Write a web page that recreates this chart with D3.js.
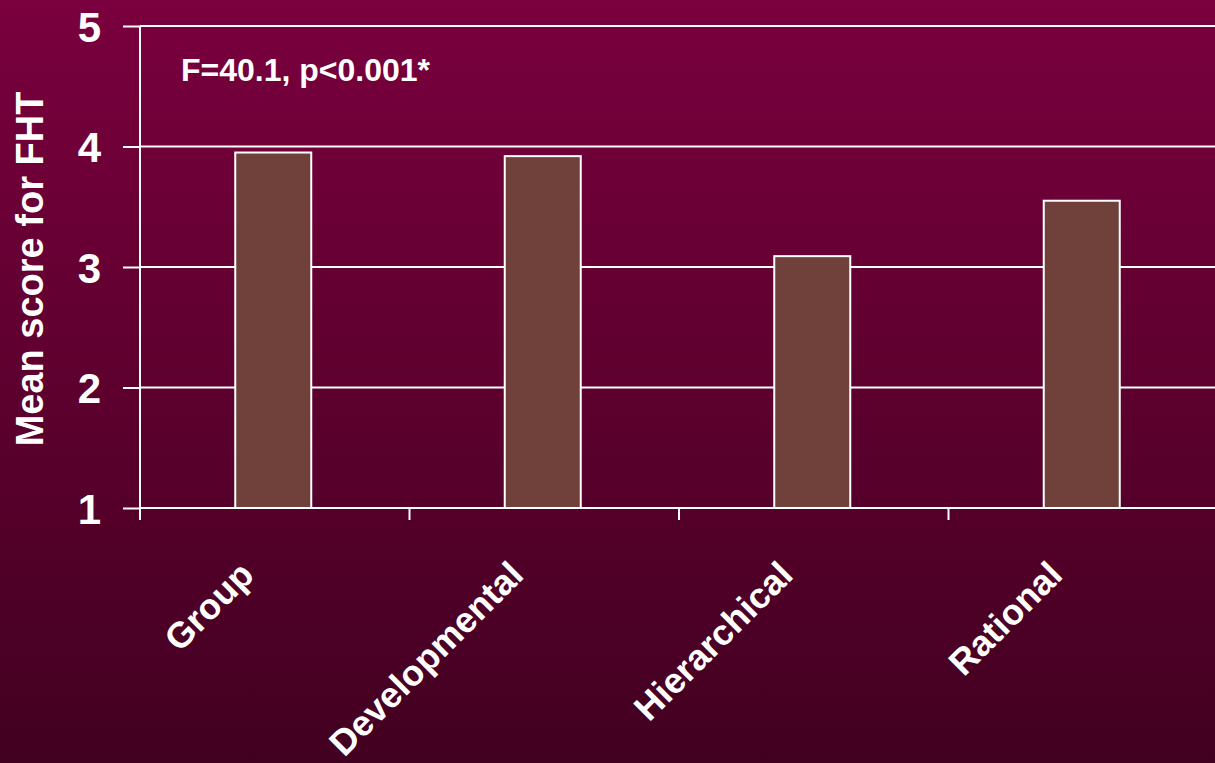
<!DOCTYPE html>
<html>
<head>
<meta charset="utf-8">
<script src="https://cdn.jsdelivr.net/npm/d3@7"></script>
<style>
  html, body { margin: 0; padding: 0; background: #5e0030; }
  svg { display: block; }
  text { font-family: "Liberation Sans", Arial, sans-serif; font-weight: bold; fill: #ffffff; }
</style>
</head>
<body>
<svg id="chart" width="1215" height="763"></svg>
<script>
// Culture types and their mean FHT scores
const categories = ["Group", "Developmental", "Hierarchical", "Rational"];
const meanScores = [3.95, 3.92, 3.09, 3.55];
const yTicks = [1, 2, 3, 4, 5];
const yTitle = "Mean score for FHT";
const statNote = "F=40.1, p<0.001*";

const W = 1215, H = 763;
const margin = { left: 140, top: 26, right: -3, bottom: 255 };

const svg = d3.select("#chart");

// background gradient
const defs = svg.append("defs");
const grad = defs.append("linearGradient")
  .attr("id", "bg").attr("x1", 0).attr("y1", 0).attr("x2", 0).attr("y2", 1);
grad.append("stop").attr("offset", "0%").attr("stop-color", "#7a003e");
grad.append("stop").attr("offset", "100%").attr("stop-color", "#420020");
svg.append("rect").attr("width", W).attr("height", H).attr("fill", "url(#bg)");

const x = d3.scaleBand()
  .domain(categories)
  .range([margin.left, W - margin.right])
  .padding(0);

const y = d3.scaleLinear()
  .domain([1, 5])
  .range([H - margin.bottom, margin.top]);

// left tick marks and value labels
const yAxis = svg.append("g")
  .attr("transform", `translate(${margin.left},0)`)
  .call(d3.axisLeft(y).tickValues(yTicks).tickSize(17).tickFormat(d3.format("d")).tickPadding(22));
yAxis.select(".domain").remove();
yAxis.selectAll(".tick line").attr("stroke", "#ffffff").attr("stroke-width", 2);
yAxis.selectAll(".tick text")
  .attr("font-size", 42).attr("fill", "#ffffff").attr("dy", "0.36em")
  .attr("font-family", "'Liberation Sans', Arial, sans-serif").attr("font-weight", "bold");

// horizontal gridlines
svg.append("g")
  .selectAll("line")
  .data(yTicks)
  .join("line")
  .attr("x1", margin.left).attr("x2", W)
  .attr("y1", d => y(d)).attr("y2", d => y(d))
  .attr("stroke", "#ffffff").attr("stroke-width", 2);

// vertical axis line
svg.append("line")
  .attr("x1", margin.left).attr("x2", margin.left)
  .attr("y1", y(5)).attr("y2", y(1))
  .attr("stroke", "#ffffff").attr("stroke-width", 2);

// bars
const barFrac = 0.282;
svg.append("g")
  .selectAll("rect")
  .data(categories)
  .join("rect")
  .attr("x", d => x(d) + x.bandwidth() * (1 - barFrac) / 2 - 1.5)
  .attr("width", x.bandwidth() * barFrac)
  .attr("y", (d, i) => y(meanScores[i]))
  .attr("height", (d, i) => y(1) - y(meanScores[i]))
  .attr("fill", "#70403b")
  .attr("stroke", "#ffffff")
  .attr("stroke-width", 2);

// x axis ticks at band boundaries
svg.append("g")
  .selectAll("line")
  .data(categories)
  .join("line")
  .attr("x1", d => x(d)).attr("x2", d => x(d))
  .attr("y1", y(1)).attr("y2", y(1) + 12)
  .attr("stroke", "#ffffff").attr("stroke-width", 2);

// rotated category labels
svg.append("g")
  .selectAll("text")
  .data(categories)
  .join("text")
  .attr("transform", d => `translate(${x(d) + x.bandwidth() / 2 - 19},${y(1) + 69}) rotate(-45)`)
  .attr("text-anchor", "end")
  .attr("font-size", 36)
  .text(d => d);

// y axis title
svg.append("text")
  .attr("transform", `translate(43,${(y(5) + y(1)) / 2 + 2}) rotate(-90)`)
  .attr("text-anchor", "middle")
  .attr("font-size", 38)
  .text(yTitle);

// test statistic note
svg.append("text")
  .attr("x", 181)
  .attr("y", 81)
  .attr("font-size", 32)
  .text(statNote);
</script>
</body>
</html>
